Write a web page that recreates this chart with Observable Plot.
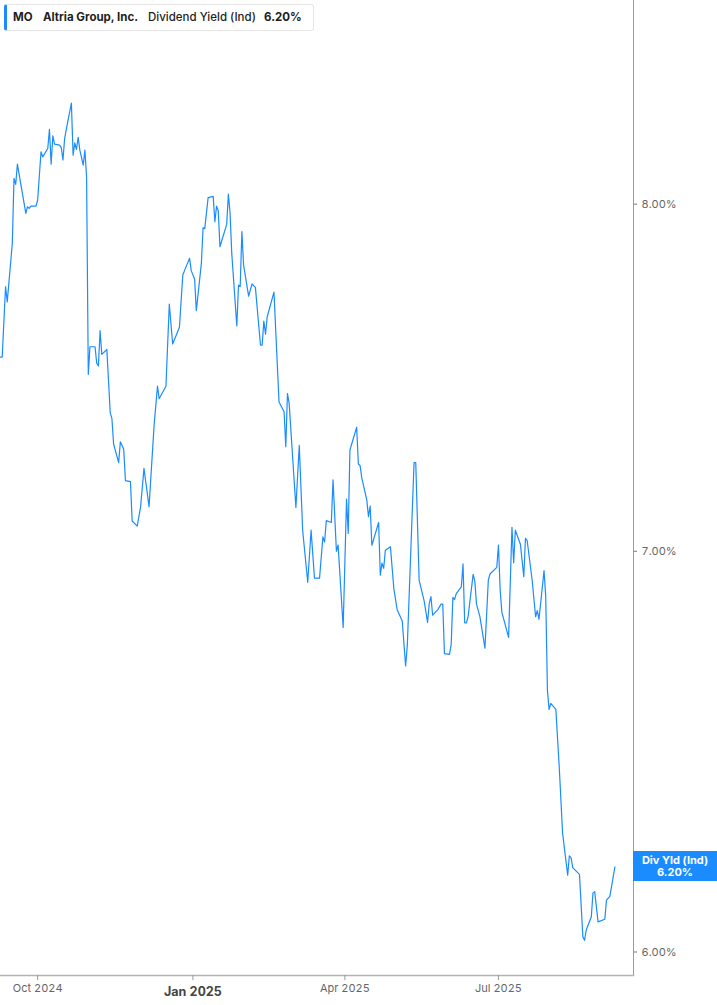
<!DOCTYPE html>
<html>
<head>
<meta charset="utf-8">
<script src="https://cdn.jsdelivr.net/npm/d3@7"></script>
<script src="https://cdn.jsdelivr.net/npm/@observablehq/plot@0.6"></script>
<style>
  html, body { margin: 0; padding: 0; background: #fff; }
  #wrap { position: relative; width: 717px; height: 1005px; font-family: Inter, "Noto Sans", sans-serif; }
  #wrap svg { position: absolute; left: 0; top: 0; }
  #legend { position: absolute; left: 4px; top: 4px; width: 306px; height: 25px; border: 1px solid #e6e6e6; border-left: 3px solid #1a8cff; border-radius: 3px; background: #fff; font-size: 11.5px; color: #1e1e1e; }
  #legend span { position: absolute; top: 5px; white-space: nowrap; }
  #endlabel { position: absolute; left: 633px; width: 84px; height: 30px; background: #1a8cff; color: #fff; font-size: 11px; font-weight: 700; text-align: center; line-height: 12px; display: flex; flex-direction: column; justify-content: center; }
</style>
</head>
<body>
<div id="wrap">
  <div id="legend"></div>
  <div id="endlabel"></div>
</div>
<script>
const ticker = "MO";
const company = "Altria Group, Inc.";
const metric = "Dividend Yield (Ind)";
const endLabelTitle = "Div Yld (Ind)";

const dates = [
"2024-09-09","2024-09-10","2024-09-12","2024-09-13","2024-09-16","2024-09-17","2024-09-18","2024-09-19",
"2024-09-24","2024-09-25","2024-09-26","2024-09-27","2024-09-30","2024-10-01","2024-10-03","2024-10-04",
"2024-10-07","2024-10-08","2024-10-09","2024-10-10","2024-10-11","2024-10-14","2024-10-15","2024-10-16",
"2024-10-17","2024-10-18","2024-10-21","2024-10-22","2024-10-23","2024-10-24","2024-10-25","2024-10-26",
"2024-10-28","2024-10-29","2024-10-30","2024-10-31","2024-11-01","2024-11-04","2024-11-05","2024-11-06",
"2024-11-07","2024-11-08","2024-11-11","2024-11-13","2024-11-14","2024-11-15","2024-11-18","2024-11-19",
"2024-11-21","2024-11-22","2024-11-25","2024-11-26","2024-11-29","2024-12-01","2024-12-03","2024-12-06",
"2024-12-09","2024-12-11","2024-12-12","2024-12-16","2024-12-18","2024-12-20","2024-12-24","2024-12-26",
"2024-12-27","2024-12-30","2024-12-31","2025-01-02","2025-01-03","2025-01-06","2025-01-07","2025-01-08",
"2025-01-10","2025-01-13","2025-01-14","2025-01-15","2025-01-16","2025-01-17","2025-01-21","2025-01-22",
"2025-01-23","2025-01-24","2025-01-27","2025-01-28","2025-01-29","2025-01-30","2025-01-31","2025-02-03",
"2025-02-05","2025-02-07","2025-02-10","2025-02-11","2025-02-12","2025-02-13","2025-02-14","2025-02-18",
"2025-02-21","2025-02-24","2025-02-25","2025-02-26","2025-02-27","2025-03-03","2025-03-05","2025-03-07",
"2025-03-10","2025-03-12","2025-03-14","2025-03-17","2025-03-19","2025-03-20","2025-03-21","2025-03-24",
"2025-03-25","2025-03-27","2025-03-28","2025-03-31","2025-04-02","2025-04-03","2025-04-04","2025-04-08",
"2025-04-09","2025-04-10","2025-04-11","2025-04-14","2025-04-15","2025-04-16","2025-04-17","2025-04-21",
"2025-04-22","2025-04-23","2025-04-24","2025-04-25","2025-04-28","2025-04-30","2025-05-02","2025-05-05",
"2025-05-07","2025-05-08","2025-05-12","2025-05-13","2025-05-15","2025-05-18","2025-05-20","2025-05-21",
"2025-05-22","2025-05-23","2025-05-26","2025-05-28","2025-05-29","2025-05-30","2025-06-02","2025-06-03",
"2025-06-04","2025-06-05","2025-06-06","2025-06-09","2025-06-10","2025-06-11","2025-06-12","2025-06-13",
"2025-06-16","2025-06-17","2025-06-18","2025-06-20","2025-06-23","2025-06-25","2025-06-26","2025-06-30",
"2025-07-01","2025-07-02","2025-07-03","2025-07-07","2025-07-09","2025-07-10","2025-07-11","2025-07-14",
"2025-07-16","2025-07-17","2025-07-18","2025-07-21","2025-07-23","2025-07-24","2025-07-25","2025-07-28",
"2025-07-29","2025-07-30","2025-07-31","2025-08-01","2025-08-04","2025-08-06","2025-08-08","2025-08-11",
"2025-08-12","2025-08-13","2025-08-14","2025-08-18","2025-08-20","2025-08-21","2025-08-22","2025-08-25",
"2025-08-26","2025-08-27","2025-08-29","2025-09-02","2025-09-03","2025-09-05","2025-09-08"
];

const yields = [
7.543,7.543,7.750,7.705,7.881,8.080,8.061,8.124,
7.972,7.992,7.987,7.994,7.994,8.012,8.163,8.147,
8.173,8.234,8.124,8.213,8.187,8.184,8.176,8.137,
8.205,8.234,8.317,8.152,8.191,8.170,8.208,8.168,
8.121,8.168,8.083,7.493,7.573,7.573,7.525,7.517,
7.620,7.551,7.565,7.383,7.367,7.295,7.243,7.301,
7.280,7.193,7.190,7.082,7.068,7.121,7.227,7.121,
7.348,7.459,7.423,7.459,7.698,7.581,7.630,7.785,
7.798,7.835,7.798,7.772,7.679,7.820,7.928,7.925,
8.020,8.024,7.946,7.994,7.980,7.870,7.938,8.031,
7.972,7.850,7.634,7.755,7.750,7.916,7.815,7.722,
7.758,7.748,7.578,7.578,7.648,7.610,7.661,7.734,
7.414,7.386,7.287,7.438,7.410,7.119,7.291,7.057,
6.917,7.057,6.928,6.928,7.039,7.025,7.083,7.078,
7.195,7.000,7.017,6.798,7.142,7.048,7.278,7.342,
7.239,7.235,7.201,7.139,7.094,7.123,7.016,7.078,
6.936,6.968,6.954,7.003,7.012,6.901,6.844,6.815,
6.698,6.751,7.243,7.243,6.923,6.867,6.811,6.861,
6.879,6.830,6.844,6.859,6.859,6.730,6.728,6.754,
6.877,6.871,6.887,6.905,6.966,6.810,6.810,6.826,
6.938,6.920,6.859,6.826,6.744,6.923,6.939,6.957,
7.017,6.897,6.838,6.772,7.065,6.969,7.057,7.019,
6.932,7.035,7.029,6.921,6.826,6.842,6.819,6.948,
6.879,6.636,6.587,6.602,6.587,6.443,6.280,6.180,
6.226,6.222,6.198,6.182,6.035,6.027,6.051,6.082,
6.138,6.141,6.070,6.076,6.121,6.130,6.200
];

const xDomain = ["2024-09-09", "2025-09-19"];
const yDomain = [5.946, 8.652];
const yTicks = [6, 7, 8];
const xTickDates = ["2024-10-01", "2025-04-01", "2025-07-01"];
const xTickLabels = ["Oct 2024", "Apr 2025", "Jul 2025"];
const xMajorDates = ["2025-01-01"];
const xMajorLabels = ["Jan 2025"];

const data = dates.map((d, i) => ({date: new Date(d), value: yields[i]}));
const lastValue = yields[yields.length - 1];
const fmtPct = v => v.toFixed(2) + "%";

const labelFor = (ds, ls) => d => { const i = ds.findIndex(s => +new Date(s) === +d); return i >= 0 ? ls[i] : ""; };

const chart = Plot.plot({
  width: 717,
  height: 1005,
  marginLeft: 0,
  marginRight: 84,
  marginTop: 0,
  marginBottom: 30,
  style: {fontFamily: "Inter, 'Noto Sans', sans-serif", fontSize: "11px", background: "transparent", overflow: "visible"},
  x: {type: "utc", domain: xDomain.map(d => new Date(d))},
  y: {type: "log", domain: yDomain},
  marks: [
    Plot.frame({anchor: "right", stroke: "#9b9b9b", strokeWidth: 1}),
    Plot.frame({anchor: "bottom", stroke: "#b3b3b3", strokeWidth: 1.5}),
    Plot.axisY(yTicks, {anchor: "right", tickSize: 3, tickPadding: 5, stroke: "#777", fill: "#666", tickFormat: fmtPct, label: null}),
    Plot.axisX(xTickDates.map(d => new Date(d)), {anchor: "bottom", tickSize: 5, tickPadding: 3.5, stroke: "#999", fill: "#666", tickFormat: labelFor(xTickDates, xTickLabels), label: null}),
    Plot.axisX(xMajorDates.map(d => new Date(d)), {anchor: "bottom", tickSize: 5, tickPadding: 6.5, stroke: "#999", fill: "#444", fontSize: 12.5, fontWeight: "bold", tickFormat: labelFor(xMajorDates, xMajorLabels), label: null}),
    Plot.lineY(data, {x: "date", y: "value", stroke: "#1a8cff", strokeWidth: 1.2, clip: true})
  ]
});

const wrap = document.getElementById("wrap");
wrap.insertBefore(chart, wrap.firstChild);

const legend = document.getElementById("legend");
legend.innerHTML =
  `<span style="left:6px;font-weight:700">${ticker}</span>` +
  `<span style="left:36px;font-weight:700">${company}</span>` +
  `<span style="left:141px;font-weight:500">${metric}</span>` +
  `<span style="left:257px;font-weight:700">${fmtPct(lastValue)}</span>`;

const endLabel = document.getElementById("endlabel");
const yEnd = chart.scale("y").apply(lastValue);
endLabel.style.top = (yEnd - 15) + "px";
endLabel.innerHTML = `<div>${endLabelTitle}</div><div>${fmtPct(lastValue)}</div>`;
</script>
</body>
</html>
